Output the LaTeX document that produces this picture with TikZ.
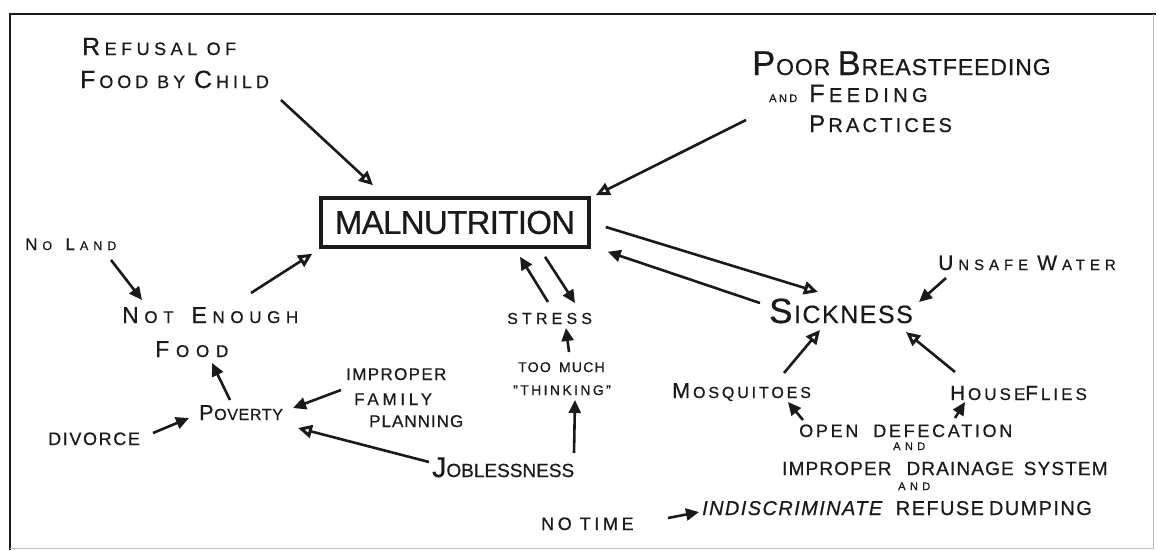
\documentclass[tikz,border=0pt]{standalone}
\usepackage{fontspec}
\setmainfont{Liberation Sans}[FakeBold=0.6]
\usetikzlibrary{arrows.meta,calc}
\definecolor{ink}{HTML}{1A1A1A}
\def\lsamt{0}
\newcommand\Fs[2]{\fontsize{#1}{#1}\selectfont\addfontfeatures{LetterSpace=#2}\def\lsamt{#2}}
\newcommand\Bg[2][1.38]{\scalebox{#1}{#2}\kern\dimexpr\lsamt\fontdimen6\font/100\relax}
\tikzset{
  lbl/.style={inner sep=0pt, anchor=base west, text=ink},
  arrO/.style={draw=ink, line width=2.6pt, -{Triangle[open,length=14pt,width=13pt,line width=3pt]}},
  arrF/.style={draw=ink, line width=2.6pt, -{Triangle[length=13pt,width=12pt]}},
  frame/.style={draw=ink, line width=2.6pt},
  faint/.style={draw=black!25, line width=1pt}
}
\begin{document}
\begin{tikzpicture}[x=1pt,y=-1pt]
\useasboundingbox (0,0) rectangle (1156,550);
\fill[white] (0,0) rectangle (1156,550);
% frame
\draw[frame] (10,550) -- (10,14) -- (1156,14);
\draw[faint] (1153,14) -- (1153,548) -- (10,548);

% central box
\node[draw=ink, line width=3.5pt, minimum width=268pt, minimum height=49pt, inner sep=0pt,
      font=\Fs{33}{-2}, text=ink] (mal) at (455,222.5) {MALNUTRITION};

% labels
\node[lbl, font=\Fs{18}{25}] (ref1) at (82,55) {\Bg{R}EFUSAL OF};
\node[lbl, font=\Fs{18}{22}] (ref2) at (80,88) {\Bg{F}OOD BY \Bg{C}HILD};

\node[lbl, font=\Fs{23}{4}] (poor1) at (752,75) {\Bg[1.5]{P}OOR \Bg[1.5]{B}REASTFEEDING};
\node[lbl, font=\Fs{20}{22}] (poor2) at (769,102) {{\fontsize{11}{11}\selectfont AND}\hspace{12pt}\Bg[1.25]{F}EEDING};
\node[lbl, font=\Fs{20}{16}] (poor3) at (809,132) {\Bg[1.2]{P}RACTICES};

\node[lbl, font=\Fs{12.5}{40}] (noland) at (25,250) {\Bg[1.35]{N}O \hspace{5pt}\Bg[1.35]{L}AND};
\node[lbl, font=\Fs{17}{33}] (notenough) at (122,323) {\Bg[1.35]{N}OT\hspace{18pt}\Bg[1.35]{E}NOUGH};
\node[lbl, font=\Fs{17}{40}] (food) at (155,357) {\Bg[1.35]{F}OOD};

\node[lbl, font=\Fs{16}{4}] (poverty) at (199,420) {\Bg[1.35]{P}OVERTY};
\node[lbl, font=\Fs{18}{9}] (divorce) at (48,445) {DIVORCE};

\node[lbl, font=\Fs{17}{8}] (ifp1) at (346,380) {IMPROPER};
\node[lbl, font=\Fs{17}{22}] (ifp2) at (354,405) {FAMILY};
\node[lbl, font=\Fs{17}{6}] (ifp3) at (369,427) {PLANNING};

\node[lbl, font=\Fs{19}{0}] (jobless) at (432,477) {\Bg[1.5]{J}OBLESSNESS};

\node[lbl, font=\Fs{16}{26}] (stress) at (507,324) {STRESS};
\node[lbl, font=\Fs{14}{9}] (toomuch) at (518,372) {TOO \hspace{3pt}MUCH};
\node[lbl, font=\Fs{14}{17}] (think) at (513,395) {"THINKING"};

\node[lbl, font=\Fs{25}{6}] (sick) at (769,323) {\Bg[1.4]{S}ICKNESS};
\node[lbl, font=\Fs{15}{33}] (unsafe) at (938,270) {\Bg[1.4]{U}NSAFE \Bg[1.4]{W}ATER};

\node[lbl, font=\Fs{16}{18}] (mosq) at (672,398) {\Bg[1.35]{M}OSQUITOES};
\node[lbl, font=\Fs{17}{18}] (flies) at (950,400) {\Bg[1.2]{H}OUSE\Bg[1.2]{F}LIES};

\node[lbl, font=\Fs{18}{15}] (open) at (799,437) {OPEN\hspace{15pt}DEFECATION};
\node[lbl, font=\Fs{11}{40}] (and1) at (893,450) {AND};
\node[lbl, font=\Fs{19}{6}] (drain) at (782,475) {IMPROPER\hspace{15pt}DRAINAGE\hspace{10pt}SYSTEM};
\node[lbl, font=\Fs{11}{40}] (and2) at (898,490) {AND};
\node[lbl, font=\Fs{20}{7}] (indisc) at (702,515) {\textit{INDISCRIMINATE}\hspace{12pt}REFUSE\hspace{5pt}DUMPING};

\node[lbl, font=\Fs{18}{20}] (notime) at (541,530) {NO\hspace{8pt}TIME};

% connectors
\draw[arrO] ([shift={(201,12)}]ref2.base west) -- ([shift={(-82,-11)}]mal.north);
\draw[arrO] ([shift={(-63,-12)}]poor3.base west) -- ([shift={(5,-1)}]mal.north east);
\draw[arrF] ([shift={(86,10)}]noland.base west) -- ([shift={(20,-23)}]notenough.base west);
\draw[arrO] ([shift={(129,-30)}]notenough.base west) -- ([shift={(-7,5)}]mal.south west);
\draw[arrF] ([shift={(31,-20)}]poverty.base west) -- ([shift={(57,6)}]food.base west);
\draw[arrF] ([shift={(105,-12)}]divorce.base west) -- ([shift={(-10,-2)}]poverty.base west);
\draw[arrF] ([shift={(-5,10)}]ifp1.base west) -- ([shift={(94,-12)}]poverty.base west);
\draw[arrO] ([shift={(-3,-15)}]jobless.base west) -- ([shift={(99,8)}]poverty.base west);
\draw[arrF] ([shift={(142,-24)}]jobless.base west) -- ([shift={(62,5)}]think.base west);
\draw[arrF] ([shift={(51,-20)}]toomuch.base west) -- ([shift={(59,4)}]stress.base west);
\draw[arrF] ([shift={(41,-22)}]stress.base west) -- ([shift={(65,8)}]mal.south);
\draw[arrF] ([shift={(90,8)}]mal.south) -- ([shift={(68,-21)}]stress.base west);
\draw[arrO] ([shift={(15,4.5)}]mal.east) -- ([shift={(49,-31)}]sick.base west);
\draw[arrF] ([shift={(-9,-20)}]sick.base west) -- ([shift={(17,3)}]mal.south east);
\draw[arrF] ([shift={(8,8)}]unsafe.base west) -- ([shift={(150,-21)}]sick.base west);
\draw[arrO] ([shift={(112,-25)}]mosq.base west) -- ([shift={(51,7)}]sick.base west);
\draw[arrO] ([shift={(5,-28)}]flies.base west) -- ([shift={(137,9)}]sick.base west);
\draw[arrF] ([shift={(4,-17)}]open.base west) -- ([shift={(116,4)}]mosq.base west);
\draw[arrF] ([shift={(156,-19)}]open.base west) -- ([shift={(15,2)}]flies.base west);
\draw[arrF] ([shift={(127,-12)}]notime.base west) -- ([shift={(-3,-3)}]indisc.base west);
\end{tikzpicture}
\end{document}
